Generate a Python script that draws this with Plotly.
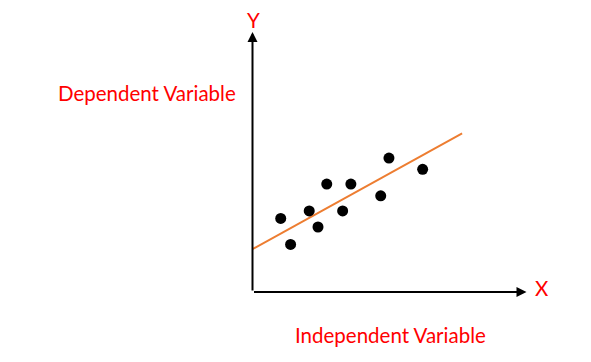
import plotly.graph_objects as go

# Data (in axis units: origin at axes corner, axes run 0..10)
point_x = [1.03, 1.39, 2.07, 2.39, 2.71, 3.29, 3.59, 4.68, 4.98, 6.21]
point_y = [2.83, 1.83, 3.12, 2.50, 4.15, 3.12, 4.15, 3.70, 5.15, 4.72]
trend_x = [0.0, 7.65]
trend_y = [1.65, 6.10]
axis_len = 10
x_label = "X"
y_label = "Y"
dep_label = "Dependent Variable"
indep_label = "Independent Variable"

W, H = 591, 362
# pixel mapping: px = 252.5 + 27.4*x ; py = 292 - 26*y
sx, ox = 27.4, 252.5
sy, oy = 26.0, 292.0
xr = [(0 - ox) / sx, (W - ox) / sx]
yr = [(oy - H) / sy, (oy - 0) / sy]

fig = go.Figure()
fig.add_trace(go.Scatter(x=trend_x, y=trend_y, mode="lines",
                         line=dict(color="#ED7D31", width=2), hoverinfo="skip"))
fig.add_trace(go.Scatter(x=point_x, y=point_y, mode="markers",
                         marker=dict(color="black", size=11, line=dict(width=0)),
                         hoverinfo="skip"))

red = "#FF0000"
font_fam = "Lato, 'Open Sans', sans-serif"
fs = 20.5
ann = [
    # axes arrows
    dict(x=axis_len, y=0, ax=0, ay=0, xref="x", yref="y", axref="x", ayref="y",
         showarrow=True, arrowhead=2, arrowsize=1, arrowwidth=2, arrowcolor="black", text=""),
    dict(x=0, y=axis_len, ax=0, ay=0, xref="x", yref="y", axref="x", ayref="y",
         showarrow=True, arrowhead=2, arrowsize=1, arrowwidth=2, arrowcolor="black", text=""),
    dict(x=253 / W, y=1 - 20 / H, xref="paper", yref="paper", text=y_label, showarrow=False,
         font=dict(color=red, size=fs, family=font_fam), xanchor="center", yanchor="middle"),
    dict(x=541.5 / W, y=1 - 288 / H, xref="paper", yref="paper", text=x_label, showarrow=False,
         font=dict(color=red, size=fs, family=font_fam), xanchor="center", yanchor="middle"),
    dict(x=146.5 / W, y=1 - 93 / H, xref="paper", yref="paper", text=dep_label, showarrow=False,
         font=dict(color=red, size=fs, family=font_fam), xanchor="center", yanchor="middle"),
    dict(x=390 / W, y=1 - 335 / H, xref="paper", yref="paper", text=indep_label, showarrow=False,
         font=dict(color=red, size=fs, family=font_fam), xanchor="center", yanchor="middle"),
]

fig.update_layout(
    width=W, height=H, margin=dict(l=0, r=0, t=0, b=0),
    paper_bgcolor="white", plot_bgcolor="white", showlegend=False,
    xaxis=dict(range=xr, visible=False, fixedrange=True),
    yaxis=dict(range=yr, visible=False, fixedrange=True),
    annotations=ann,
)
fig.write_html("out.html", config={"displayModeBar": False})
